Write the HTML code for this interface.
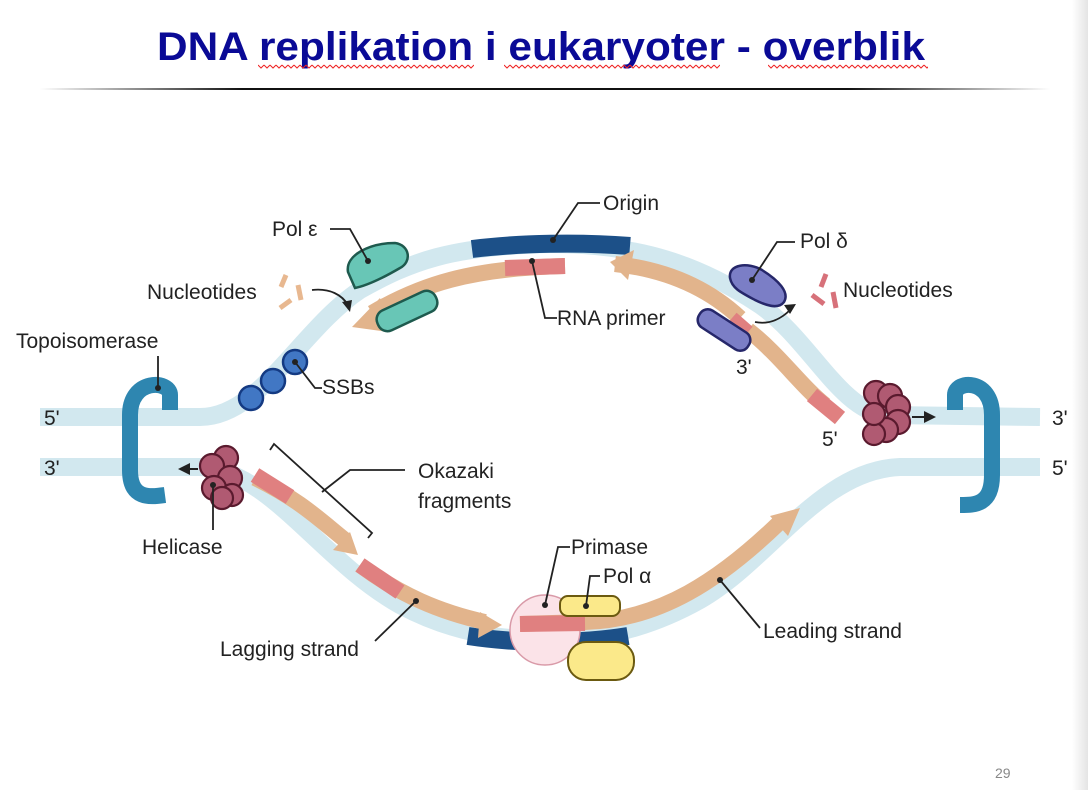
<!DOCTYPE html>
<html><head><meta charset="utf-8"><style>
html,body{margin:0;padding:0;background:#fff;}
svg{display:block;font-family:"Liberation Sans",sans-serif;}
.l{font-size:21px;fill:#222;}
.ln{fill:none;stroke:#222;stroke-width:1.8;}
</style></head><body>
<svg width="1088" height="790" viewBox="0 0 1088 790">
<defs>
<linearGradient id="hr" x1="0" x2="1"><stop offset="0" stop-color="#fff"/><stop offset="0.2" stop-color="#111"/><stop offset="0.8" stop-color="#111"/><stop offset="1" stop-color="#fff"/></linearGradient>
<linearGradient id="edge" x1="0" x2="1"><stop offset="0" stop-color="#fff"/><stop offset="1" stop-color="#e4e4e4"/></linearGradient>
<pattern id="wv" x="0" y="64" width="6" height="5" patternUnits="userSpaceOnUse"><path d="M0 1 L3 4 L6 1" fill="none" stroke="#e22" stroke-width="1"/></pattern>
</defs>
<rect x="1072" y="0" width="16" height="790" fill="url(#edge)"/>
<text x="157" y="60" font-size="40" font-weight="bold" fill="#0a0a96" textLength="768" lengthAdjust="spacingAndGlyphs">DNA replikation i eukaryoter - overblik</text>
<rect x="258" y="64" width="216" height="5" fill="url(#wv)"/>
<rect x="504" y="64" width="216" height="5" fill="url(#wv)"/>
<rect x="768" y="64" width="160" height="5" fill="url(#wv)"/>
<rect x="40" y="88" width="1010" height="2" fill="url(#hr)"/>

<path d="M40 417 L200 417 C260 417 300 330 360 290 C410 262 450 246 550 244 C640 244 700 265 760 305 C810 340 840 410 885 415 L1040 417" fill="none" stroke="#d2e8ef" stroke-width="18"/>
<path d="M40 467 L200 467 C270 470 320 560 400 605 C450 632 500 640 550 640 C600 640 650 628 700 600 C770 560 820 470 900 467 L1040 467" fill="none" stroke="#d2e8ef" stroke-width="18"/>
<path d="M472 249 C520 243 580 242 630 246" fill="none" stroke="#1c5088" stroke-width="18"/>
<path d="M468 636 C520 644 580 644 628 636" fill="none" stroke="#1c5088" stroke-width="18"/>

<path d="M565 266 C470 268 420 285 372 313" fill="none" stroke="#e2b48c" stroke-width="16"/>
<polygon points="352,327 380,298 388,332" fill="#e2b48c"/>
<path d="M505 268 L565 266" stroke="#e08080" stroke-width="16" fill="none"/>
<path d="M615 264 C670 270 710 290 740 318" fill="none" stroke="#e2b48c" stroke-width="16"/>
<polygon points="610,262 634,250 628,280" fill="#e2b48c"/>
<path d="M748 330 C780 355 800 385 825 405" fill="none" stroke="#e2b48c" stroke-width="16"/>
<path d="M812 395 L840 418" stroke="#e08080" stroke-width="16"/>
<path d="M732 318 L748 332" stroke="#e08080" stroke-width="14"/>
<path d="M255 478 C300 500 320 520 345 540" fill="none" stroke="#e2b48c" stroke-width="16"/>
<polygon points="358,555 333,550 350,532" fill="#e2b48c"/>
<path d="M255 475 L290 497" stroke="#e08080" stroke-width="16"/>
<path d="M360 565 C400 595 440 612 485 622" fill="none" stroke="#e2b48c" stroke-width="16"/>
<polygon points="502,625 480,612 478,638" fill="#e2b48c"/>
<path d="M360 565 L400 592" stroke="#e08080" stroke-width="16"/>
<circle cx="545" cy="630" r="35" fill="#fbe3e8" stroke="#d99aa8" stroke-width="1.5"/>
<path d="M520 624 L585 622 C660 620 720 580 780 522" fill="none" stroke="#e2b48c" stroke-width="16"/>
<path d="M520 624 L585 623" stroke="#e08080" stroke-width="16"/>
<polygon points="800,508 770,516 788,536" fill="#e2b48c"/>
<rect x="560" y="596" width="60" height="20" rx="8" fill="#fbe98a" stroke="#6b5a10" stroke-width="2"/>
<rect x="568" y="642" width="66" height="38" rx="18" fill="#fbe98a" stroke="#6b5a10" stroke-width="2"/>

<path d="M170 410 L170 395 C170 380 130 378 130 415 L130 470 C130 500 150 497 165 495" fill="none" stroke="#2e86b0" stroke-width="16"/>
<path d="M955 410 L955 395 C955 380 992 378 992 415 L992 475 C992 505 975 505 960 505" fill="none" stroke="#2e86b0" stroke-width="16"/>

<g fill="#4177c4" stroke="#143a82" stroke-width="2.5"><circle cx="251" cy="398" r="12"/><circle cx="273" cy="381" r="12"/><circle cx="295" cy="362" r="12"/></g>

<g fill="#68c6b6" stroke="#1e5a4e" stroke-width="2.5">
<path d="M348 272 C345 255 370 243 395 243 C410 245 412 262 400 268 C388 275 370 285 355 288 Z"/>
<rect x="375" y="300" width="64" height="22" rx="10" transform="rotate(-25 407 311)"/>
</g>
<g fill="#7b7ec6" stroke="#26276a" stroke-width="2.5">
<path d="M730 278 C728 264 748 262 762 270 C778 280 790 292 784 302 C778 310 765 305 755 300 C740 292 732 288 730 278 Z"/>
<rect x="695" y="320" width="58" height="20" rx="9" transform="rotate(33 724 330)"/>
</g>

<g fill="#b05a72" stroke="#5a1a2e" stroke-width="2.2">
<circle cx="226" cy="458" r="12"/><circle cx="212" cy="466" r="12"/><circle cx="230" cy="478" r="12"/><circle cx="214" cy="488" r="12"/><circle cx="232" cy="495" r="11"/><circle cx="222" cy="498" r="11"/>
<circle cx="876" cy="393" r="12"/><circle cx="890" cy="396" r="12"/><circle cx="898" cy="407" r="12"/><circle cx="898" cy="422" r="12"/><circle cx="886" cy="430" r="12"/><circle cx="874" cy="434" r="11"/><circle cx="874" cy="414" r="11"/>
</g>
<path d="M198 469 L186 469" stroke="#222" stroke-width="2"/><polygon points="178,469 190,463 190,475" fill="#222"/>
<path d="M912 417 L928 417" stroke="#222" stroke-width="2"/><polygon points="936,417 924,411 924,423" fill="#222"/>

<g stroke="#e8b890" stroke-width="5"><line x1="286" y1="275" x2="281" y2="287"/><line x1="298" y1="285" x2="301" y2="300"/><line x1="280" y1="308" x2="291" y2="300"/></g>
<g stroke="#d7717a" stroke-width="5"><line x1="826" y1="274" x2="821" y2="287"/><line x1="812" y1="295" x2="824" y2="304"/><line x1="833" y1="292" x2="836" y2="308"/></g>
<path d="M312 290 C330 288 342 295 348 305" class="ln"/><polygon points="350,312 342,302 352,300" fill="#222"/>
<path d="M755 322 C770 325 782 318 790 310" class="ln"/><polygon points="796,304 784,305 790,314" fill="#222"/>

<text class="l" x="272" y="236">Pol ε</text>
<path class="ln" d="M330 229 L350 229 L368 261"/><circle cx="368" cy="261" r="3" fill="#222"/>
<text class="l" x="147" y="299">Nucleotides</text>
<text class="l" x="16" y="348">Topoisomerase</text>
<path class="ln" d="M158 356 L158 388"/><circle cx="158" cy="388" r="3" fill="#222"/>
<text class="l" x="322" y="394">SSBs</text>
<path class="ln" d="M295 362 L315 388 L322 388"/><circle cx="295" cy="362" r="3" fill="#222"/>
<text class="l" x="603" y="210">Origin</text>
<path class="ln" d="M600 203 L578 203 L553 240"/><circle cx="553" cy="240" r="3" fill="#222"/>
<text class="l" x="557" y="325">RNA primer</text>
<path class="ln" d="M532 261 L545 318 L557 318"/><circle cx="532" cy="261" r="3" fill="#222"/>
<text class="l" x="800" y="248">Pol δ</text>
<path class="ln" d="M795 242 L777 242 L752 280"/><circle cx="752" cy="280" r="3" fill="#222"/>
<text class="l" x="843" y="297">Nucleotides</text>
<text class="l" x="736" y="374">3'</text>
<text class="l" x="822" y="446">5'</text>
<text class="l" x="44" y="425">5'</text>
<text class="l" x="44" y="475">3'</text>
<text class="l" x="1052" y="425">3'</text>
<text class="l" x="1052" y="475">5'</text>
<text class="l" x="142" y="554">Helicase</text>
<path class="ln" d="M213 485 L213 530"/><circle cx="213" cy="485" r="3" fill="#222"/>
<text class="l" x="418" y="478">Okazaki</text>
<text class="l" x="418" y="508">fragments</text>
<path class="ln" d="M270 450 L274 444 L372 533 L368 538"/>
<path class="ln" d="M322 492 L350 470 L405 470"/>
<text class="l" x="220" y="656">Lagging strand</text>
<path class="ln" d="M375 641 L416 601"/><circle cx="416" cy="601" r="3" fill="#222"/>
<text class="l" x="571" y="554">Primase</text>
<path class="ln" d="M570 547 L558 547 L545 605"/><circle cx="545" cy="605" r="3" fill="#222"/>
<text class="l" x="603" y="583">Pol α</text>
<path class="ln" d="M600 576 L590 576 L586 606"/><circle cx="586" cy="606" r="3" fill="#222"/>
<text class="l" x="763" y="638">Leading strand</text>
<path class="ln" d="M760 628 L720 580"/><circle cx="720" cy="580" r="3" fill="#222"/>
<text x="995" y="778" font-size="14" fill="#888">29</text>
</svg>
</body></html>
